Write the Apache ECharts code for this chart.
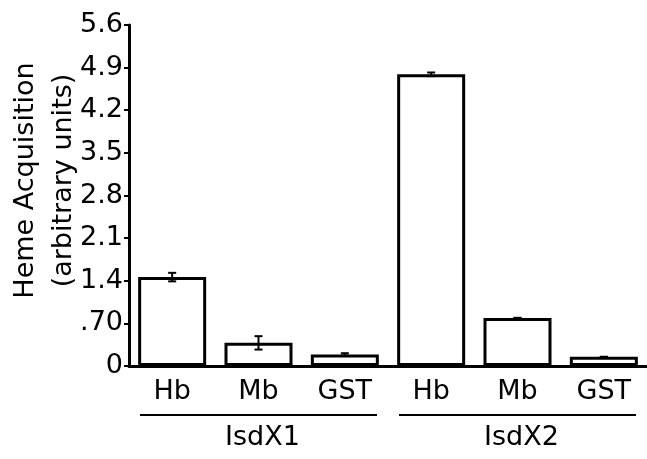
<!DOCTYPE html>
<html>
<head>
<meta charset="utf-8">
<script src="https://cdn.jsdelivr.net/npm/echarts@6/dist/echarts.min.js"></script>
<style>
  html, body { margin: 0; padding: 0; background: #fff; }
  #chart { width: 647px; height: 459px; }
</style>
</head>
<body>
<div id="chart"></div>
<script>
var categories = ['Hb', 'Mb', 'GST', 'Hb', 'Mb', 'GST'];
var values = [1.46, 0.38, 0.19, 4.79, 0.79, 0.15];
var errors = [0.07, 0.11, 0.02, 0.03, 0, 0];
var groups = ['IsdX1', 'IsdX2'];
var groupRanges = [[0, 2], [3, 5]];
var yTicks = [0, 0.7, 1.4, 2.1, 2.8, 3.5, 4.2, 4.9, 5.6];

var font = 'DejaVu Sans, sans-serif';
var chart = echarts.init(document.getElementById('chart'));

var errData = values.map(function (v, i) {
    return [i, v - errors[i], v + errors[i]];
});
var groupData = groups.map(function (g, i) {
    return [groupRanges[i][0], groupRanges[i][1], g];
});

var option = {
    animation: false,
    grid: { left: 129, right: 0, top: 25, bottom: 93, outerBoundsMode: 'none', containLabel: false },
    xAxis: {
        type: 'category',
        data: categories,
        axisLine: { lineStyle: { color: '#000', width: 3 } },
        axisTick: { show: false },
        axisLabel: { color: '#000', fontSize: 27, fontFamily: font, margin: 12 }
    },
    yAxis: {
        type: 'value',
        min: yTicks[0],
        max: yTicks[yTicks.length - 1],
        interval: 0.7,
        name: 'Heme Acquisition\n(arbitrary units)',
        nameLocation: 'middle',
        nameGap: 46,
        nameMoveOverlap: false,
        nameTextStyle: {
            color: '#000', fontSize: 27, fontFamily: font, lineHeight: 38,
            padding: [0, 0, 0, 30]
        },
        axisLine: { show: true, lineStyle: { color: '#000', width: 3 } },
        axisTick: { show: true, length: 5, lineStyle: { color: '#000', width: 2 } },
        splitLine: { show: false },
        axisLabel: {
            color: '#000', fontSize: 27, fontFamily: font, margin: 6,
            formatter: function (v) {
                if (v === 0) return '0';
                if (Math.abs(v - 0.7) < 1e-6) return '.70';
                return v.toFixed(1);
            }
        }
    },
    series: [
        {
            type: 'bar',
            data: values,
            barWidth: 68,
            itemStyle: { color: '#fff', borderColor: '#000', borderWidth: 3 }
        },
        {
            type: 'custom',
            data: errData,
            z: 5,
            renderItem: function (params, api) {
                var x = api.value(0);
                var lo = api.coord([x, api.value(1)]);
                var hi = api.coord([x, api.value(2)]);
                var w = 4;
                return {
                    type: 'group',
                    children: [
                        { type: 'line', shape: { x1: lo[0], y1: lo[1], x2: hi[0], y2: hi[1] }, style: { stroke: '#000', lineWidth: 2 } },
                        { type: 'line', shape: { x1: lo[0] - w, y1: lo[1], x2: lo[0] + w, y2: lo[1] }, style: { stroke: '#000', lineWidth: 2 } },
                        { type: 'line', shape: { x1: hi[0] - w, y1: hi[1], x2: hi[0] + w, y2: hi[1] }, style: { stroke: '#000', lineWidth: 2 } }
                    ]
                };
            }
        },
        {
            type: 'custom',
            data: groupData,
            clip: false,
            renderItem: function (params, api) {
                var a = api.coord([api.value(0), 0]);
                var b = api.coord([api.value(1), 0]);
                var bw = api.size([1, 0])[0];
                var x1 = a[0] - bw / 2 + 11;
                var x2 = b[0] + bw / 2 - 11;
                var y = a[1] + 49;
                return {
                    type: 'group',
                    children: [
                        { type: 'line', shape: { x1: x1, y1: y, x2: x2, y2: y }, style: { stroke: '#000', lineWidth: 2 } },
                        {
                            type: 'text',
                            style: {
                                text: groupData[params.dataIndex][2],
                                x: (x1 + x2) / 2 + 4, y: y + 23,
                                align: 'center', verticalAlign: 'middle',
                                fill: '#000', fontSize: 27, fontFamily: font
                            }
                        }
                    ]
                };
            }
        }
    ]
};

chart.setOption(option);
</script>
</body>
</html>
